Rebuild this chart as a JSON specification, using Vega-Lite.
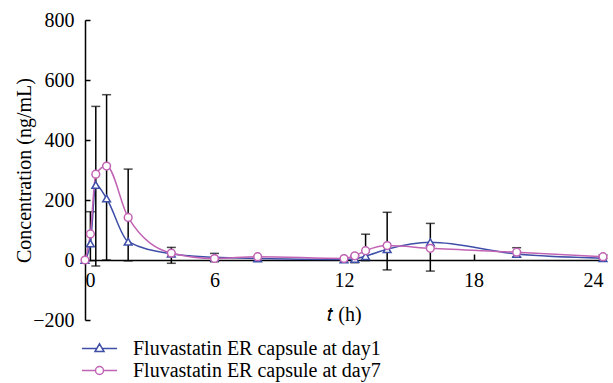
{
  "$schema": "https://vega.github.io/schema/vega-lite/v6.json",
  "width": 518,
  "height": 300,
  "autosize": {"type": "none"},
  "padding": {"left": 85, "top": 20, "right": 10, "bottom": 63},
  "config": {
    "view": {"stroke": null},
    "font": "Liberation Serif",
    "axis": {
      "labelFont": "Liberation Serif",
      "titleFont": "Liberation Serif",
      "labelFontSize": 20,
      "titleFontSize": 20,
      "titleFontWeight": "normal",
      "labelColor": "black",
      "titleColor": "black",
      "domainColor": "black",
      "tickColor": "black",
      "grid": false
    }
  },
  "datasets": {
    "conc": [
      {"t": 0, "c": 0, "s": "Fluvastatin ER capsule at day1"},
      {"t": 0.25, "c": 55, "s": "Fluvastatin ER capsule at day1"},
      {"t": 0.5, "c": 250, "s": "Fluvastatin ER capsule at day1"},
      {"t": 1, "c": 205, "s": "Fluvastatin ER capsule at day1"},
      {"t": 2, "c": 61, "s": "Fluvastatin ER capsule at day1"},
      {"t": 4, "c": 21, "s": "Fluvastatin ER capsule at day1"},
      {"t": 6, "c": 9, "s": "Fluvastatin ER capsule at day1"},
      {"t": 8, "c": 5, "s": "Fluvastatin ER capsule at day1"},
      {"t": 12, "c": 2, "s": "Fluvastatin ER capsule at day1"},
      {"t": 12.5, "c": 4, "s": "Fluvastatin ER capsule at day1"},
      {"t": 13, "c": 13, "s": "Fluvastatin ER capsule at day1"},
      {"t": 14, "c": 36, "s": "Fluvastatin ER capsule at day1"},
      {"t": 16, "c": 59, "s": "Fluvastatin ER capsule at day1"},
      {"t": 20, "c": 20, "s": "Fluvastatin ER capsule at day1"},
      {"t": 24, "c": 6, "s": "Fluvastatin ER capsule at day1"},
      {"t": 0, "c": 0, "s": "Fluvastatin ER capsule at day7"},
      {"t": 0.25, "c": 87, "s": "Fluvastatin ER capsule at day7"},
      {"t": 0.5, "c": 286, "s": "Fluvastatin ER capsule at day7"},
      {"t": 1, "c": 313, "s": "Fluvastatin ER capsule at day7"},
      {"t": 2, "c": 142, "s": "Fluvastatin ER capsule at day7"},
      {"t": 4, "c": 23, "s": "Fluvastatin ER capsule at day7"},
      {"t": 6, "c": 5, "s": "Fluvastatin ER capsule at day7"},
      {"t": 8, "c": 11, "s": "Fluvastatin ER capsule at day7"},
      {"t": 12, "c": 5, "s": "Fluvastatin ER capsule at day7"},
      {"t": 12.5, "c": 14, "s": "Fluvastatin ER capsule at day7"},
      {"t": 13, "c": 31, "s": "Fluvastatin ER capsule at day7"},
      {"t": 14, "c": 48, "s": "Fluvastatin ER capsule at day7"},
      {"t": 16, "c": 39, "s": "Fluvastatin ER capsule at day7"},
      {"t": 20, "c": 26, "s": "Fluvastatin ER capsule at day7"},
      {"t": 24, "c": 11, "s": "Fluvastatin ER capsule at day7"}
    ],
    "err": [
      {"t": 0.25, "low": -2, "high": 161},
      {"t": 0.5, "low": -20, "high": 512},
      {"t": 1, "low": 0, "high": 551},
      {"t": 2, "low": -3, "high": 303},
      {"t": 4, "low": -11, "high": 42},
      {"t": 6, "low": -6, "high": 22},
      {"t": 12.5, "low": -9, "high": 14},
      {"t": 13, "low": -2, "high": 86},
      {"t": 14, "low": -33, "high": 159},
      {"t": 16, "low": -37, "high": 122},
      {"t": 20, "low": 10, "high": 41},
      {"t": 24, "low": 5, "high": 17}
    ]
  },
  "layer": [
    {
      "data": {"name": "err"},
      "mark": {"type": "rule", "color": "black", "strokeWidth": 1.5},
      "encoding": {
        "x": {
          "field": "t", "type": "quantitative", "title": "𝑡 (h)",
          "scale": {"domain": [0, 24], "nice": false},
          "axis": {
            "values": [0, 6, 12, 18, 24],
            "offset": -60,
            "tickSize": -6,
            "tickWidth": 1.5,
            "domainWidth": 1.5,
            "labelFont": "Liberation Serif",
            "labelFontSize": 20,
            "titleFont": "Liberation Serif",
            "titleFontSize": 20,
            "titleFontWeight": "normal",
            "labelPadding": 16,
            "labelAngle": 0,
            "titlePadding": 14
          }
        },
        "y": {
          "field": "low", "type": "quantitative", "title": "Concentration (ng/mL)",
          "scale": {"domain": [-200, 800], "nice": false},
          "axis": {
            "values": [-200, 0, 200, 400, 600, 800],
            "tickSize": -5,
            "tickWidth": 1.5,
            "domainWidth": 1.5,
            "labelFont": "Liberation Serif",
            "labelFontSize": 20,
            "titleFont": "Liberation Serif",
            "titleFontSize": 20,
            "titleFontWeight": "normal",
            "labelPadding": 16,
            "titlePadding": -2
          }
        },
        "y2": {"field": "high"}
      }
    },
    {
      "data": {"name": "err"},
      "mark": {"type": "tick", "orient": "horizontal", "color": "black", "size": 9, "thickness": 1.5},
      "encoding": {
        "x": {"field": "t", "type": "quantitative", "title": "𝑡 (h)"},
        "y": {"field": "low", "type": "quantitative", "title": "Concentration (ng/mL)"}
      }
    },
    {
      "data": {"name": "err"},
      "mark": {"type": "tick", "orient": "horizontal", "color": "black", "size": 9, "thickness": 1.5},
      "encoding": {
        "x": {"field": "t", "type": "quantitative", "title": "𝑡 (h)"},
        "y": {"field": "high", "type": "quantitative", "title": "Concentration (ng/mL)"}
      }
    },
    {
      "data": {"name": "conc"},
      "mark": {"type": "line", "interpolate": "monotone", "strokeWidth": 1.5},
      "encoding": {
        "x": {"field": "t", "type": "quantitative", "title": "𝑡 (h)"},
        "y": {"field": "c", "type": "quantitative", "title": "Concentration (ng/mL)"},
        "color": {
          "field": "s", "type": "nominal",
          "scale": {"domain": ["Fluvastatin ER capsule at day1", "Fluvastatin ER capsule at day7"], "range": ["#3F4FA8", "#C163B4"]},
          "legend": {
            "orient": "none",
            "legendX": 3,
            "legendY": 317,
            "title": null,
            "padding": 0,
            "symbolSize": 441,
            "symbolStrokeWidth": 1.5,
            "labelOffset": 22,
            "labelFont": "Liberation Serif",
            "labelFontSize": 20,
            "labelColor": "black",
            "labelLimit": 0,
            "rowPadding": -1,
            "encode": {
              "symbols": {
                "update": {
                  "shape": {"signal": "datum.value === 'Fluvastatin ER capsule at day1' ? 'M-1.67,0H-0.27M0.27,0H1.67M0,-0.45L0.43,0.29H-0.43Z' : 'M-1.67,0H-0.38M0.38,0H1.67M0.38,0A0.38,0.38 0 1,1 -0.38,0A0.38,0.38 0 1,1 0.38,0Z'"},
                  "fill": {"value": "white"},
                  "fillOpacity": {"value": 1}
                }
              }
            }
          }
        }
      }
    },
    {
      "data": {"name": "conc"},
      "transform": [{"filter": {"field": "s", "equal": "Fluvastatin ER capsule at day1"}}],
      "mark": {"type": "point", "shape": "triangle-up", "filled": false, "fill": "white", "fillOpacity": 1, "stroke": "#3F4FA8", "opacity": 1, "size": 60, "strokeWidth": 1.5},
      "encoding": {
        "x": {"field": "t", "type": "quantitative", "title": "𝑡 (h)"},
        "y": {"field": "c", "type": "quantitative", "title": "Concentration (ng/mL)"}
      }
    },
    {
      "data": {"name": "conc"},
      "transform": [{"filter": {"field": "s", "equal": "Fluvastatin ER capsule at day7"}}],
      "mark": {"type": "point", "shape": "circle", "filled": false, "fill": "white", "fillOpacity": 1, "stroke": "#C163B4", "opacity": 1, "size": 60, "strokeWidth": 1.5},
      "encoding": {
        "x": {"field": "t", "type": "quantitative", "title": "𝑡 (h)"},
        "y": {"field": "c", "type": "quantitative", "title": "Concentration (ng/mL)"}
      }
    }
  ]
}
